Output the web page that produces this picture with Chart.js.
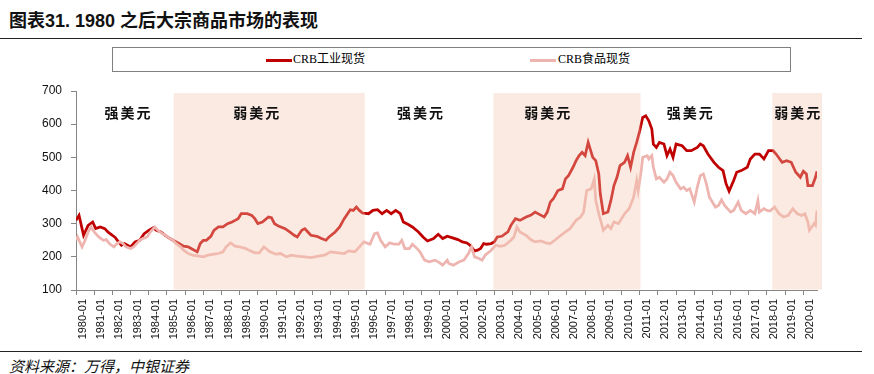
<!DOCTYPE html>
<html><head><meta charset="utf-8">
<script src="https://cdn.jsdelivr.net/npm/chart.js@4/dist/chart.umd.min.js"></script>
<style>
html,body{margin:0;padding:0;background:#fff;width:874px;height:374px;overflow:hidden;position:relative;}
#title{position:absolute;left:9px;top:6px;font:bold 18px "Liberation Sans","Noto Sans CJK SC",sans-serif;color:#111;white-space:nowrap;}
#rule1{position:absolute;left:0;top:38px;width:862px;height:0;border-top:1.5px solid #222;}
#legend{position:absolute;left:112px;top:47px;width:679px;height:25px;border:1px solid #808080;box-sizing:border-box;}
.item{position:absolute;top:5px;font:12px "Liberation Serif","Noto Sans CJK SC",serif;color:#000;white-space:nowrap;line-height:13px;}
.sw{position:absolute;top:11px;width:26px;height:3px;}
#wrap{position:absolute;left:0;top:80px;width:874px;height:265px;}
#wrap canvas{display:block;}
#rule2{position:absolute;left:0;top:351px;width:862px;height:0;border-top:1.5px solid #222;}
#source{position:absolute;left:9px;top:355px;font:italic 15px "Noto Sans CJK SC",sans-serif;color:#111;white-space:nowrap;}
</style></head>
<body>
<div id="title">图表31. 1980 之后大宗商品市场的表现</div>
<div id="rule1"></div>
<div id="legend"></div>
<div id="wrap"><canvas id="c" width="874" height="265"></canvas></div>
<div id="rule2"></div>
<div id="source">资料来源：万得，中银证券</div>
<script>
const seriesNames = ['CRB工业现货', 'CRB食品现货'];
const seriesColors = ['#C00000', '#EEB4AF'];

const indDates = ['1980-01','1980-03','1980-06','1980-09','1980-12','1981-02','1981-05','1981-08','1981-10','1982-01','1982-03','1982-05','1982-07','1982-09','1983-01','1983-04','1983-07','1983-10','1984-01','1984-04','1984-06','1984-09','1984-11','1985-02','1985-05','1985-09','1985-12','1986-03','1986-05','1986-09','1986-11','1987-01','1987-03','1987-06','1987-08','1987-11','1988-02','1988-05','1988-08','1988-10','1988-12','1989-02','1989-06','1989-09','1989-11','1990-01','1990-04','1990-08','1990-10','1990-12','1991-03','1991-07','1991-10','1992-01','1992-03','1992-06','1992-08','1992-10','1992-12','1993-04','1993-07','1993-10','1993-12','1994-04','1994-07','1994-10','1995-02','1995-04','1995-06','1995-08','1995-10','1996-02','1996-05','1996-08','1996-11','1997-02','1997-05','1997-08','1997-11','1998-01','1998-04','1998-07','1998-11','1999-02','1999-05','1999-09','1999-12','2000-03','2000-06','2000-09','2001-01','2001-04','2001-07','2001-09','2001-12','2002-02','2002-04','2002-06','2002-08','2002-11','2003-01','2003-03','2003-06','2003-10','2003-12','2004-03','2004-06','2004-10','2005-01','2005-04','2005-08','2005-10','2005-12','2006-02','2006-04','2006-07','2006-10','2006-12','2007-02','2007-05','2007-07','2007-09','2007-11','2008-01','2008-03','2008-06','2008-08','2008-10','2008-11','2009-01','2009-04','2009-06','2009-08','2009-10','2009-12','2010-03','2010-05','2010-07','2010-09','2010-11','2011-01','2011-03','2011-05','2011-07','2011-09','2011-10','2011-12','2012-02','2012-05','2012-07','2012-09','2012-11','2013-01','2013-05','2013-08','2013-11','2014-03','2014-05','2014-07','2014-10','2015-02','2015-05','2015-08','2015-10','2015-12','2016-03','2016-05','2016-08','2016-12','2017-02','2017-05','2017-08','2017-11','2018-02','2018-05','2018-07','2018-11','2019-02','2019-05','2019-08','2019-11','2020-01','2020-03','2020-04','2020-07','2020-09','2020-10'];
const indValues = [310,325,265,295,305,285,290,285,275,265,258,245,235,240,230,245,250,270,280,288,280,275,268,258,250,240,232,230,225,215,240,250,250,262,280,290,290,300,305,310,315,330,330,325,315,300,305,320,318,300,292,285,275,265,260,280,285,275,265,262,255,250,260,275,290,315,342,340,350,340,332,330,340,342,330,340,330,340,330,305,298,290,275,260,248,255,268,255,262,258,252,245,242,235,218,220,225,240,238,240,245,260,262,275,295,315,310,320,325,335,325,320,335,365,375,400,405,435,445,470,490,505,515,505,545,500,490,450,390,330,335,370,415,440,475,485,505,470,515,545,580,620,625,610,585,540,530,545,540,505,525,500,540,535,520,520,530,540,535,510,485,470,460,420,398,430,455,460,470,495,510,510,495,520,520,510,485,490,485,455,440,458,450,415,415,440,458];

const foodDates = ['1980-01','1980-02','1980-05','1980-07','1980-09','1980-11','1981-01','1981-04','1981-07','1981-09','1981-11','1982-02','1982-04','1982-06','1982-08','1982-10','1983-01','1983-03','1983-05','1983-07','1983-09','1983-12','1984-02','1984-05','1984-07','1984-10','1984-12','1985-02','1985-05','1985-07','1985-10','1985-12','1986-03','1986-06','1986-10','1987-01','1987-04','1987-08','1987-11','1988-02','1988-04','1988-07','1988-10','1989-01','1989-05','1989-08','1989-11','1990-02','1990-05','1990-09','1991-01','1991-04','1991-08','1991-11','1992-03','1992-08','1992-12','1993-05','1993-09','1994-01','1994-06','1994-10','1995-01','1995-05','1995-08','1995-11','1996-03','1996-06','1996-08','1996-10','1997-01','1997-04','1997-07','1997-10','1997-12','1998-02','1998-05','1998-07','1998-09','1998-12','1999-03','1999-06','1999-10','2000-01','2000-03','2000-06','2000-07','2000-10','2001-02','2001-05','2001-08','2001-10','2001-12','2002-03','2002-05','2002-07','2002-11','2003-02','2003-05','2003-08','2003-12','2004-02','2004-04','2004-06','2004-10','2005-01','2005-04','2005-08','2005-11','2006-02','2006-05','2006-09','2006-12','2007-03','2007-07','2007-10','2007-12','2008-02','2008-05','2008-07','2008-08','2008-10','2009-01','2009-04','2009-06','2009-08','2009-11','2010-03','2010-06','2010-09','2010-11','2010-12','2011-02','2011-03','2011-06','2011-07','2011-09','2011-10','2011-12','2012-02','2012-05','2012-07','2012-09','2012-11','2013-01','2013-04','2013-06','2013-08','2013-10','2014-01','2014-03','2014-05','2014-07','2014-09','2014-11','2015-03','2015-05','2015-07','2015-09','2016-01','2016-03','2016-06','2016-08','2016-11','2017-02','2017-05','2017-07','2017-08','2017-11','2018-01','2018-03','2018-06','2018-09','2018-12','2019-03','2019-06','2019-09','2019-12','2020-02','2020-04','2020-05','2020-08','2020-09','2020-10'];
const foodValues = [250,260,230,250,275,290,275,260,250,252,240,230,240,245,240,230,225,230,240,250,255,260,275,290,280,270,265,258,250,240,230,220,210,205,202,200,205,208,210,215,230,242,232,230,225,218,212,212,230,215,208,210,200,205,202,200,198,202,205,215,212,210,218,215,230,245,238,270,272,250,230,242,238,238,250,225,225,238,230,215,190,185,190,182,175,190,180,175,185,190,210,230,200,195,190,205,220,235,232,235,250,260,290,275,265,252,245,248,242,240,250,265,275,285,310,320,335,400,405,435,370,330,280,295,285,305,300,330,345,380,430,400,460,500,505,495,505,470,435,440,425,435,455,445,425,405,410,400,405,365,410,445,450,420,380,350,355,372,355,335,340,365,340,330,340,330,370,335,345,340,338,350,330,320,325,345,330,325,330,305,280,300,295,340];

const xTickLabels = ['1980-01','1981-01','1982-01','1983-01','1984-01','1985-01','1986-01','1987-01','1988-01','1989-01','1990-01','1991-01','1992-01','1993-01','1994-01','1995-01','1996-01','1997-01','1998-01','1999-01','2000-01','2001-01','2002-01','2003-01','2004-01','2005-01','2006-01','2007-01','2008-01','2009-01','2010-01','2011-01','2012-01','2013-01','2014-01','2015-01','2016-01','2017-01','2018-01','2019-01','2020-01'];
const yTicks = [100,200,300,400,500,600,700];

const weakStarts = ['1985-06','2003-01','2018-05'];
const weakEnds = ['1995-11','2011-01',null];
const regimeTexts = ['强美元','弱美元','强美元','弱美元','强美元','弱美元'];
const regimeCenters = ['1982-11','1989-12','1998-12','2005-12','2013-10','2019-09'];

const toMonth = s => { const p = s.split('-').map(Number); return (p[0]-1980)*12 + (p[1]-1); };
const xMax = toMonth('2020-10');

const lg = document.getElementById('legend');
const legendPos = [[153,180],[417,445]];
seriesNames.forEach((n,i)=>{
  const sw = document.createElement('div'); sw.className='sw';
  sw.style.left = legendPos[i][0]+'px'; sw.style.background = seriesColors[i];
  const t = document.createElement('div'); t.className='item';
  t.style.left = legendPos[i][1]+'px'; t.textContent = n;
  lg.appendChild(sw); lg.appendChild(t);
});

const shadePlugin = {
  id:'shade',
  afterDatasetsDraw(chart){
    const {ctx, chartArea:a, scales:{x, y}} = chart;
    ctx.save();
    ctx.fillStyle = 'rgba(245,198,176,0.36)';
    const top = y.getPixelForValue(694);
    weakStarts.forEach((s,i)=>{
      const x0 = x.getPixelForValue(toMonth(s)-0.5);
      const x1 = weakEnds[i] ? x.getPixelForValue(toMonth(weakEnds[i])+0.5) : a.right+5;
      ctx.fillRect(x0, top, x1-x0, a.bottom-top-0.5);
    });
    ctx.fillStyle = '#111';
    ctx.font = 'bold 14px "Noto Sans CJK SC"';
    ctx.textAlign = 'center'; ctx.textBaseline = 'middle';
    try { ctx.letterSpacing = '2px'; } catch(e){}
    regimeTexts.forEach((t,i)=>{
      ctx.fillText(t, x.getPixelForValue(toMonth(regimeCenters[i]))+1, y.getPixelForValue(636));
    });
    ctx.restore();
  }
};

const axisColor = '#868686';
new Chart(document.getElementById('c'), {
  type:'line',
  data:{datasets:[
    {label:seriesNames[0], data:indDates.map((d,i)=>({x:toMonth(d), y:indValues[i]})), borderColor:seriesColors[0], borderWidth:2.75, pointRadius:0, tension:0, order:1},
    {label:seriesNames[1], data:foodDates.map((d,i)=>({x:toMonth(d), y:foodValues[i]})), borderColor:seriesColors[1], borderWidth:2.75, pointRadius:0, tension:0, order:0}
  ]},
  options:{
    responsive:false, animation:false, devicePixelRatio:1,
    layout:{padding:{left:0,right:57,top:11,bottom:0}},
    plugins:{legend:{display:false}, tooltip:{enabled:false}},
    scales:{
      x:{type:'linear', min:0, max:xMax,
        afterBuildTicks:s=>{ s.ticks = xTickLabels.map(l=>({value:toMonth(l)})); },
        afterFit:s=>{ s.height = 55; s.paddingTop = 0; s.paddingBottom = 0; },
        ticks:{autoSkip:false, maxRotation:90, minRotation:90, labelOffset:7, padding:4, color:'#111',
          font:{family:'"Liberation Sans"', size:11},
          callback:(v,i)=>xTickLabels[i]},
        grid:{drawOnChartArea:false, drawTicks:true, tickLength:5, color:axisColor},
        border:{display:true, color:axisColor, width:1}
      },
      y:{min:100, max:700,
        afterBuildTicks:s=>{ s.ticks = yTicks.map(v=>({value:v})); },
        afterFit:s=>{ s.width = 76; s.paddingTop = 0; s.paddingBottom = 0; },
        ticks:{padding:9, color:'#111', font:{family:'"Liberation Sans"', size:12}},
        grid:{drawOnChartArea:false, drawTicks:true, tickLength:5, color:axisColor},
        border:{display:true, color:axisColor, width:1}
      }
    }
  },
  plugins:[shadePlugin]
});
</script>
</body></html>
